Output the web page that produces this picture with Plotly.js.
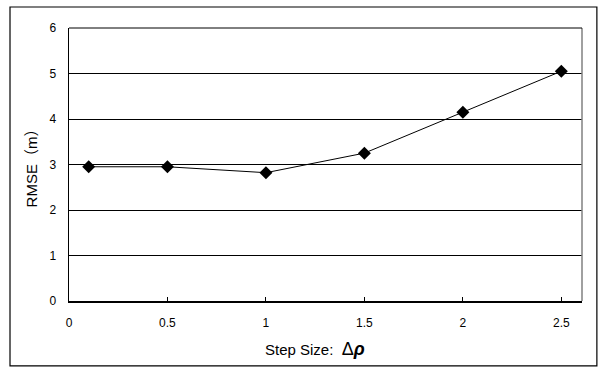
<!DOCTYPE html>
<html><head><meta charset="utf-8">
<script src="https://cdn.plot.ly/plotly-3.0.1.min.js"></script>
<style>html,body{margin:0;padding:0;background:#fff}</style>
</head><body>
<div id="chart" style="width:602px;height:375px"></div>
<script>
const stepSize = [0.1, 0.5, 1, 1.5, 2, 2.5];
const rmse = [2.95, 2.95, 2.82, 3.25, 4.15, 5.05];
const xTicks = [0, 0.5, 1, 1.5, 2, 2.5];
const yTicks = [0, 1, 2, 3, 4, 5, 6];

const trace = {
  x: stepSize, y: rmse, type: 'scatter', mode: 'lines+markers',
  line: {color: '#000', width: 1},
  marker: {symbol: 'diamond', size: 10, color: '#000'},
  hoverinfo: 'skip'
};
const layout = {
  width: 602, height: 375,
  margin: {l: 69, r: 20, t: 28, b: 74},
  paper_bgcolor: '#fff', plot_bgcolor: '#fff',
  showlegend: false,
  font: {family: 'Liberation Sans, Arial, sans-serif', color: '#000', size: 12},
  xaxis: {
    range: [0, 2.605], tickvals: xTicks, ticktext: xTicks.map(String),
    showgrid: false, zeroline: false, showline: true, linecolor: '#000', linewidth: 1.5,
    ticks: 'inside', ticklen: 4, tickcolor: '#000', tickwidth: 1,
    ticklabelstandoff: 10
  },
  yaxis: {
    range: [0, 6], tickvals: yTicks, ticktext: yTicks.map(String),
    showgrid: true, gridcolor: '#000', gridwidth: 1,
    zeroline: false, showline: true, linecolor: '#000', linewidth: 1.5,
    ticks: '', ticklabelstandoff: 9,
    title: {text: 'RMSE\uFF08m\uFF09', font: {size: 15, family: 'Liberation Sans, Noto Sans CJK JP, sans-serif'}, standoff: 8}
  },
  annotations: [
    {xref: 'paper', yref: 'paper', x: 0.48, y: -0.176, showarrow: false,
     xanchor: 'center', yanchor: 'middle',
     text: 'Step Size:  <span style="font-size:18px">Δ<b><i>ρ</i></b></span>',
     font: {size: 15}}
  ],
  shapes: [
    {type: 'rect', xref: 'paper', yref: 'paper', x0: -0.115, x1: 1.029, y0: -0.238, y1: 1.077,
     line: {color: '#000', width: 1.2}, fillcolor: 'rgba(0,0,0,0)', layer: 'below'},
    {type: 'line', xref: 'paper', yref: 'paper', x0: 1, x1: 1, y0: 0, y1: 1,
     line: {color: '#808080', width: 1.5}},
    {type: 'line', xref: 'paper', yref: 'paper', x0: 0, x1: 1, y0: 1, y1: 1,
     line: {color: '#000', width: 1}}
  ]
};
Plotly.newPlot('chart', [trace], layout, {staticPlot: true, displayModeBar: false});
</script>
</body></html>
